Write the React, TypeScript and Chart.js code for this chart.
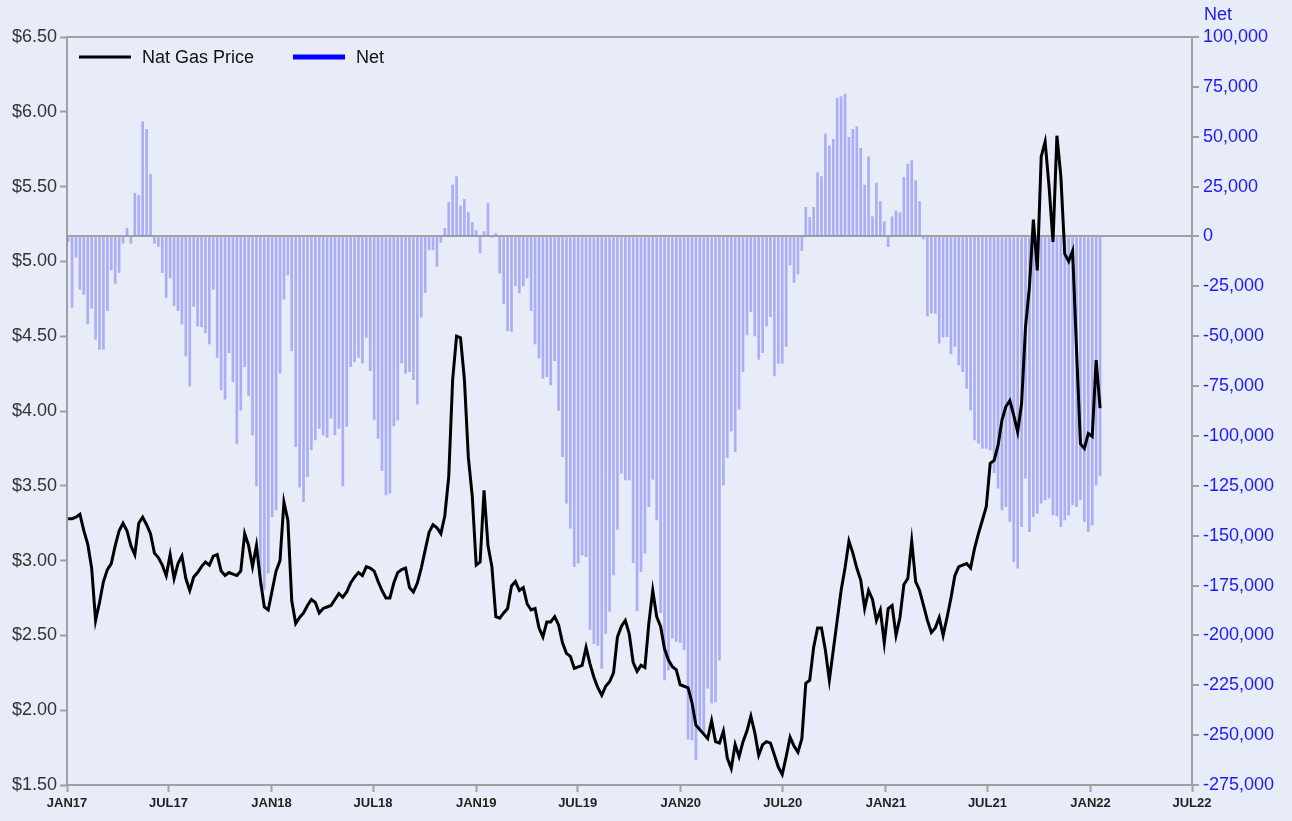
import React, { useEffect, useRef } from "react";
import { Chart, registerables } from "chart.js";

Chart.register(...registerables);

// Weekly observations, first week = Jan 3, 2017 (day 2 counted from Jan 1, 2017)
const firstWeekDay = 2;
const daysPerWeek = 7;

const natGasPrice: number[] = [
  3.28, 3.28, 3.29, 3.31, 3.2, 3.11, 2.95, 2.6, 2.72, 2.86,
  2.94, 2.98, 3.1, 3.2, 3.25, 3.2, 3.1, 3.04, 3.25, 3.29,
  3.24, 3.18, 3.05, 3.02, 2.97, 2.9, 3.04, 2.88, 2.98, 3.03,
  2.88, 2.8, 2.89, 2.92, 2.96, 2.99, 2.97, 3.03, 3.04, 2.93,
  2.9, 2.92, 2.91, 2.9, 2.93, 3.18, 3.1, 2.96, 3.1, 2.87,
  2.69, 2.67, 2.8, 2.93, 3.0, 3.39, 3.27, 2.73, 2.58, 2.62,
  2.65, 2.7, 2.74, 2.72, 2.65, 2.68, 2.69, 2.7, 2.74, 2.78,
  2.755, 2.79, 2.85, 2.89, 2.92, 2.9, 2.96, 2.95, 2.93, 2.86,
  2.8, 2.75, 2.75, 2.85, 2.92, 2.94, 2.95, 2.82, 2.79, 2.85,
  2.95, 3.07, 3.19, 3.24, 3.22, 3.18, 3.3, 3.56, 4.21, 4.5,
  4.49, 4.21, 3.69, 3.43, 2.97, 2.99, 3.47, 3.1, 2.96, 2.625,
  2.615, 2.65, 2.68, 2.83, 2.86, 2.8, 2.82, 2.71, 2.67, 2.68,
  2.55, 2.49, 2.59, 2.59, 2.625, 2.57, 2.45, 2.38, 2.36, 2.28,
  2.29, 2.3, 2.42, 2.31, 2.22, 2.15, 2.1, 2.16, 2.19, 2.25,
  2.49, 2.56, 2.6, 2.51, 2.32, 2.26, 2.3, 2.285, 2.58, 2.8,
  2.625, 2.56, 2.41, 2.335, 2.29, 2.27, 2.17, 2.16, 2.15, 2.05,
  1.9, 1.87, 1.84, 1.81, 1.93, 1.79, 1.78, 1.86, 1.68, 1.61,
  1.77, 1.69, 1.79, 1.86, 1.96, 1.85, 1.7, 1.77, 1.79, 1.78,
  1.7, 1.62, 1.57, 1.69, 1.82, 1.76, 1.72, 1.81, 2.18, 2.2,
  2.42, 2.55, 2.55, 2.4, 2.2, 2.4, 2.6, 2.8, 2.95, 3.13,
  3.05, 2.95, 2.87, 2.68, 2.8, 2.74, 2.6, 2.67, 2.45, 2.68,
  2.7, 2.5, 2.62, 2.84, 2.88, 3.13, 2.86, 2.8, 2.7, 2.6,
  2.52, 2.55, 2.62, 2.5, 2.62, 2.75, 2.9, 2.96, 2.97, 2.98,
  2.95, 3.08, 3.18, 3.27, 3.36, 3.65, 3.67, 3.77, 3.94, 4.03,
  4.07, 3.97, 3.86, 4.05, 4.56, 4.83, 5.28, 4.94, 5.7, 5.8,
  5.5, 5.13, 5.84, 5.57, 5.05, 5.0, 5.07, 4.41, 3.78, 3.75,
  3.85, 3.83, 4.34, 4.02,
];

const netPosition: number[] = [
  -2600, -35500, -10400, -26500, -29000, -43900, -36000, -51500, -56600, -56600,
  -37200, -16800, -23500, -18100, -3400, 4100, -3400, 21700, 20500, 57500,
  53700, 31200, -3400, -5000, -18100, -30500, -20800, -34800, -37200, -43900,
  -59900, -75000, -35100, -45000, -45300, -48300, -53900, -26500, -60600, -77000,
  -81600, -58300, -72800, -104000, -87000, -65300, -79800, -99500, -125100, -175500,
  -177000, -168800, -140500, -137100, -68600, -31500, -19300, -57300, -105400, -125700,
  -132900, -120400, -107000, -102000, -96200, -99500, -100700, -91100, -99500, -96200,
  -125100, -95300, -65300, -62800, -60600, -63500, -50500, -67300, -91700, -101200,
  -117400, -129600, -128700, -95000, -92000, -63500, -68600, -67800, -71800, -84000,
  -40500, -28100, -6700, -6700, -15000, -3000, 4100, 17000, 25800, 30000,
  15300, 18600, 12000, 7000, 3000, -8200, 2500, 16500, -500, 1500,
  -18400, -33800, -47200, -47700, -24800, -28200, -24800, -20900, -37200, -53900,
  -61000, -71100, -70300, -74400, -62300, -87300, -110400, -133700, -146300, -165500,
  -163800, -159700, -160500, -197000, -204000, -205000, -216600, -199000, -188000, -169700,
  -146800, -118700, -122100, -122100, -163500, -187700, -168000, -158800, -135500, -121700,
  -142100, -188600, -222300, -217300, -201400, -203000, -203600, -207300, -252000, -252400,
  -262400, -247400, -249000, -226400, -234000, -233300, -212400, -124600, -111000, -97600,
  -107900, -86600, -67800, -49400, -37700, -49900, -61600, -58200, -44900, -40200,
  -69900, -63600, -63600, -55200, -14300, -23100, -18800, -7100, 14600, 9600,
  14600, 32000, 30000, 51400, 45400, 48700, 69300, 70100, 71300, 49700,
  53700, 55000, 44200, 25800, 40000, 9900, 26700, 17500, 7400, -5100,
  9900, 12900, 11900, 29700, 36300, 38000, 28000, 17500, -1300, -39900,
  -38500, -38500, -53500, -50500, -50200, -58900, -55200, -64400, -67800, -76100,
  -87000, -102000, -103700, -106200, -106200, -107000, -118400, -126200, -137100, -135500,
  -143000, -163000, -166300, -145500, -121200, -148000, -140500, -138800, -133700, -132100,
  -131200, -139600, -140100, -145500, -142100, -139600, -134500, -135500, -132100, -143000,
  -148000, -144600, -124600, -120000,
];

// x-axis ticks: days since Jan 1, 2017
const xTickDays: number[] = [0, 181, 365, 546, 730, 911, 1095, 1277, 1461, 1642, 1826, 2007];
const xTickLabels: string[] = ["JAN17", "JUL17", "JAN18", "JUL18", "JAN19", "JUL19", "JAN20", "JUL20", "JAN21", "JUL21", "JAN22", "JUL22"];

const seriesNames: string[] = ["Nat Gas Price", "Net"];

const BG = "#e8ebf8";
const AXIS_GRAY = "#a0a0a0";
const NET_BLUE = "#1c1cf0";
const FONT = "'Liberation Sans', Arial, sans-serif";

export default function App() {
  const canvasRef = useRef<HTMLCanvasElement | null>(null);

  useEffect(() => {
    document.body.style.margin = "0";
    const canvas = canvasRef.current;
    if (!canvas) return;

    const weekDays = natGasPrice.map((_, i) => firstWeekDay + daysPerWeek * i);
    const pricePoints = natGasPrice.map((v, i) => ({ x: weekDays[i], y: v }));
    const netPoints = netPosition.map((v, i) => ({ x: weekDays[i], y: v }));

    const decorPlugin = {
      id: "decor",
      beforeDraw(chart: any) {
        const { ctx, width, height } = chart;
        ctx.save();
        ctx.fillStyle = BG;
        ctx.fillRect(0, 0, width, height);
        ctx.restore();
      },
      afterDraw(chart: any) {
        const { ctx, chartArea } = chart;
        ctx.save();
        // top frame
        ctx.strokeStyle = AXIS_GRAY;
        ctx.lineWidth = 2;
        ctx.beginPath();
        ctx.moveTo(chartArea.left, chartArea.top);
        ctx.lineTo(chartArea.right, chartArea.top);
        ctx.stroke();
        // legend
        const ly = chartArea.top + 20;
        const lx = chartArea.left + 12;
        ctx.lineCap = "butt";
        ctx.strokeStyle = "#000000";
        ctx.lineWidth = 3;
        ctx.beginPath();
        ctx.moveTo(lx, ly);
        ctx.lineTo(lx + 52, ly);
        ctx.stroke();
        ctx.font = `18px ${FONT}`;
        ctx.fillStyle = "#111111";
        ctx.textBaseline = "middle";
        ctx.textAlign = "left";
        ctx.fillText(seriesNames[0], lx + 63, ly + 1);
        ctx.strokeStyle = "#0000ff";
        ctx.lineWidth = 5;
        ctx.beginPath();
        ctx.moveTo(lx + 214, ly);
        ctx.lineTo(lx + 266, ly);
        ctx.stroke();
        ctx.fillText(seriesNames[1], lx + 277, ly + 1);
        // right axis title
        ctx.fillStyle = NET_BLUE;
        ctx.fillText(seriesNames[1], chartArea.right + 12, 15);
        ctx.restore();
      },
    };

    const chart = new Chart(canvas, {
      data: {
        datasets: [
          {
            type: "line",
            label: seriesNames[0],
            data: pricePoints,
            yAxisID: "y",
            borderColor: "#000000",
            borderWidth: 3,
            pointRadius: 0,
            tension: 0,
            order: 0,
          } as any,
          {
            type: "bar",
            label: seriesNames[1],
            data: netPoints,
            yAxisID: "y1",
            backgroundColor: "rgba(120,124,240,0.55)",
            borderWidth: 0,
            barThickness: 2,
            order: 1,
          } as any,
        ],
      },
      options: {
        responsive: false,
        animation: false,
        layout: { padding: { top: 37, left: 0, right: 0, bottom: 0 } },
        plugins: {
          legend: { display: false },
          tooltip: { enabled: false },
        },
        scales: {
          x: {
            type: "linear",
            offset: false,
            min: 0,
            max: 2007,
            afterBuildTicks(scale: any) {
              scale.ticks = xTickDays.map((v) => ({ value: v }));
            },
            afterFit(scale: any) {
              scale.height = 36;
            },
            ticks: {
              autoSkip: false,
              maxRotation: 0,
              padding: 4,
              color: "#222222",
              font: { family: FONT, size: 13, weight: "bold" },
              callback(value: any) {
                const idx = xTickDays.indexOf(value);
                return idx >= 0 ? xTickLabels[idx] : "";
              },
            },
            grid: {
              offset: false,
              drawOnChartArea: false,
              drawTicks: true,
              tickLength: 7,
              tickColor: AXIS_GRAY,
              tickWidth: 2,
            },
            border: { display: true, color: AXIS_GRAY, width: 2 },
          },
          y: {
            type: "linear",
            position: "left",
            min: 1.5,
            max: 6.5,
            afterFit(scale: any) {
              scale.width = 67;
            },
            ticks: {
              stepSize: 0.5,
              padding: 3,
              color: "#333333",
              font: { family: FONT, size: 18 },
              callback(value: any) {
                return "$" + Number(value).toFixed(2);
              },
            },
            grid: {
              drawOnChartArea: false,
              tickLength: 7,
              tickColor: AXIS_GRAY,
              tickWidth: 2,
            },
            border: { display: true, color: AXIS_GRAY, width: 2 },
          },
          y1: {
            type: "linear",
            position: "right",
            min: -275000,
            max: 100000,
            afterFit(scale: any) {
              scale.width = 100;
            },
            ticks: {
              stepSize: 25000,
              padding: 4,
              color: NET_BLUE,
              font: { family: FONT, size: 18 },
              callback(value: any) {
                return Number(value).toLocaleString("en-US");
              },
            },
            grid: {
              drawOnChartArea: true,
              color: (c: any) => (c.tick && c.tick.value === 0 ? AXIS_GRAY : "rgba(0,0,0,0)"),
              lineWidth: 2,
              tickLength: 7,
              tickColor: AXIS_GRAY,
              tickWidth: 2,
            },
            border: { display: true, color: AXIS_GRAY, width: 2 },
          },
        },
      } as any,
      plugins: [decorPlugin],
    });

    return () => {
      chart.destroy();
    };
  }, []);

  return (
    <div style={{ position: "absolute", left: 0, top: 0, width: 1292, height: 821 }}>
      <canvas ref={canvasRef} width={1292} height={821} />
    </div>
  );
}
